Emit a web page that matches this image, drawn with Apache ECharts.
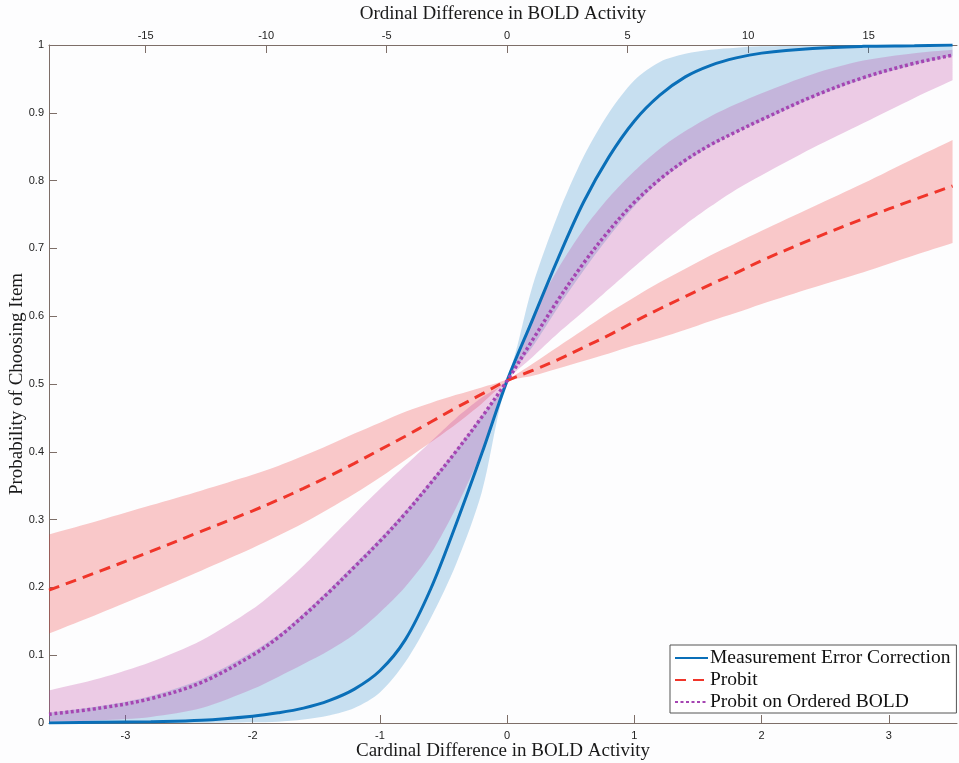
<!DOCTYPE html>
<html>
<head>
<meta charset="utf-8">
<script src="https://cdn.jsdelivr.net/npm/echarts@6/dist/echarts.min.js"></script>
<style>
  html, body { margin: 0; padding: 0; background: #fdfdfe; }
  #chart { width: 959px; height: 763px; }
</style>
</head>
<body>
<div id="chart"></div>
<script>
// x positions (cardinal difference) shared by every curve
const xs = [-3.6, -3.2, -2.8, -2.4, -2.0, -1.8, -1.6, -1.4, -1.2, -1.0, -0.8, -0.6, -0.4, -0.2, 0,
  0.2, 0.4, 0.6, 0.8, 1.0, 1.2, 1.4, 1.6, 1.8, 2.0, 2.4, 2.8, 3.2, 3.5];

// Measurement Error Correction
const mecLine = [0.000, 0.001, 0.002, 0.004, 0.010, 0.015, 0.022, 0.033, 0.050, 0.077, 0.123, 0.198, 0.294, 0.397, 0.505,
  0.595, 0.685, 0.768, 0.835, 0.888, 0.926, 0.953, 0.970, 0.981, 0.988, 0.995, 0.998, 0.999, 1.000];
const mecUp = [0.015, 0.025, 0.040, 0.065, 0.105, 0.130, 0.162, 0.197, 0.234, 0.272, 0.313, 0.357, 0.403, 0.453, 0.507,
  0.645, 0.750, 0.835, 0.900, 0.948, 0.975, 0.987, 0.993, 0.996, 0.998, 0.999, 1.000, 1.000, 1.000];
const mecLow = [0.000, 0.000, 0.000, 0.000, 0.001, 0.002, 0.005, 0.011, 0.022, 0.045, 0.090, 0.155, 0.235, 0.340, 0.503,
  0.555, 0.613, 0.667, 0.717, 0.762, 0.799, 0.827, 0.851, 0.871, 0.888, 0.922, 0.950, 0.971, 0.984];

// Probit
const probitLine = [0.196, 0.224, 0.253, 0.283, 0.313, 0.329, 0.346, 0.364, 0.383, 0.403, 0.423, 0.444, 0.465, 0.485, 0.505,
  0.520, 0.536, 0.554, 0.572, 0.592, 0.611, 0.629, 0.647, 0.664, 0.682, 0.714, 0.744, 0.772, 0.792];
const probitUp = [0.278, 0.299, 0.321, 0.343, 0.366, 0.379, 0.394, 0.410, 0.427, 0.443, 0.459, 0.472, 0.484, 0.495, 0.507,
  0.530, 0.555, 0.580, 0.605, 0.628, 0.650, 0.670, 0.690, 0.708, 0.726, 0.761, 0.796, 0.833, 0.860];
const probitLow = [0.132, 0.162, 0.193, 0.225, 0.258, 0.276, 0.295, 0.316, 0.338, 0.362, 0.388, 0.414, 0.441, 0.471, 0.503,
  0.512, 0.523, 0.534, 0.545, 0.557, 0.568, 0.580, 0.593, 0.605, 0.618, 0.642, 0.665, 0.690, 0.708];

// Probit on Ordered BOLD
const ordLine = [0.013, 0.022, 0.036, 0.060, 0.100, 0.126, 0.158, 0.193, 0.230, 0.268, 0.309, 0.354, 0.401, 0.451, 0.505,
  0.565, 0.624, 0.678, 0.726, 0.768, 0.802, 0.830, 0.853, 0.872, 0.890, 0.924, 0.952, 0.973, 0.985];
const ordUp = [0.048, 0.066, 0.090, 0.122, 0.168, 0.198, 0.232, 0.270, 0.308, 0.345, 0.380, 0.415, 0.450, 0.480, 0.507,
  0.600, 0.670, 0.728, 0.775, 0.814, 0.847, 0.873, 0.895, 0.913, 0.929, 0.957, 0.977, 0.988, 0.993];
const ordLow = [0.002, 0.004, 0.009, 0.022, 0.050, 0.068, 0.087, 0.107, 0.131, 0.163, 0.201, 0.250, 0.318, 0.400, 0.503,
  0.540, 0.575, 0.607, 0.640, 0.673, 0.705, 0.735, 0.762, 0.787, 0.808, 0.848, 0.885, 0.922, 0.948];

// ticks
const cardTicks = [-3, -2, -1, 0, 1, 2, 3];
const ordTicks = [-15, -10, -5, 0, 5, 10, 15];
const yTicks = [0, 0.1, 0.2, 0.3, 0.4, 0.5, 0.6, 0.7, 0.8, 0.9, 1];

const seriesNames = ['Measurement Error Correction', 'Probit', 'Probit on Ordered BOLD'];

const cardMin = -3.6;
const cardMax = 3.535;
const ordPerCard = 5.28; // top axis scale vs bottom axis

const axisColor = '#7d6e68';
const labelStyle = { color: '#222', fontSize: 11, fontFamily: 'Liberation Sans, Arial, sans-serif' };
const titleStyle = { color: '#1a1a1a', fontSize: 19, fontFamily: 'Liberation Serif, Times New Roman, serif' };

const pairs = (ys) => xs.map((x, i) => [x, ys[i]]);

// 端点重复一次，避免平滑时在角上鼓包
const withEnds = (pts) => [pts[0]].concat(pts, [pts[pts.length - 1]]);

// 置信带：用 custom 系列画上下沿围成的多边形
const band = (lo, hi, color) => ({
  type: 'custom',
  silent: true,
  clip: true,
  z: 1,
  data: [[xs[0], lo[0]]],
  renderItem: (params, api) => {
    if (params.dataIndex !== 0) return;
    const top = withEnds(xs.map((x, i) => api.coord([x, hi[i]])));
    const bottom = withEnds(xs.map((x, i) => api.coord([x, lo[i]])).reverse());
    return {
      type: 'polygon',
      shape: { points: top.concat(bottom), smooth: 0.3 },
      style: { fill: color, stroke: null },
    };
  },
});

const line = (name, ys, color, type, width) => ({
  name: name,
  type: 'line',
  data: pairs(ys),
  symbol: 'none',
  smooth: 0.35,
  lineStyle: { color: color, width: width, type: type },
  itemStyle: { color: color },
  z: 3,
});

const chart = echarts.init(document.getElementById('chart'));

const option = {
  backgroundColor: '#fdfdfe',
  animation: false,
  grid: { left: 49, right: 2, top: 45, bottom: 40, containLabel: false, outerBoundsMode: 'none' },
  legend: {
    data: seriesNames,
    orient: 'vertical',
    left: 670,
    top: 645,
    itemWidth: 33,
    itemHeight: 10,
    itemGap: 2,
    padding: [3, 6, 1, 4],
    backgroundColor: '#ffffff',
    borderColor: '#555',
    borderWidth: 1,
    borderRadius: 0,
    itemStyle: { opacity: 0 },
    textStyle: { color: '#111', fontSize: 19.5, fontFamily: 'Liberation Serif, Times New Roman, serif', padding: [0, 0, 0, -3] },
  },
  xAxis: [
    {
      type: 'value',
      position: 'bottom',
      min: cardMin,
      max: cardMax,
      name: 'Cardinal Difference in BOLD Activity',
      nameLocation: 'middle',
      nameGap: 19,
      nameMoveOverlap: false,
      nameTextStyle: titleStyle,
      axisLine: { onZero: false, lineStyle: { color: axisColor, width: 1 } },
      axisTick: { inside: true, length: 8, customValues: cardTicks, lineStyle: { color: axisColor } },
      axisLabel: { customValues: cardTicks, margin: 7, ...labelStyle },
      splitLine: { show: false },
    },
    {
      type: 'value',
      position: 'top',
      min: cardMin * ordPerCard,
      max: cardMax * ordPerCard,
      name: 'Ordinal Difference in BOLD Activity',
      nameLocation: 'middle',
      nameGap: 21,
      nameMoveOverlap: false,
      nameTextStyle: titleStyle,
      axisLine: { onZero: false, lineStyle: { color: axisColor, width: 1 } },
      axisTick: { inside: true, length: 8, customValues: ordTicks, lineStyle: { color: axisColor } },
      axisLabel: { customValues: ordTicks, margin: 4, ...labelStyle },
      splitLine: { show: false },
    },
  ],
  yAxis: {
    type: 'value',
    min: 0,
    max: 1,
    name: 'Probability of Choosing Item',
    nameLocation: 'middle',
    nameGap: 22,
    nameMoveOverlap: false,
    nameTextStyle: titleStyle,
    axisLine: { show: true, onZero: false, lineStyle: { color: axisColor, width: 1 } },
    axisTick: { show: true, inside: true, length: 8, customValues: yTicks, lineStyle: { color: axisColor } },
    axisLabel: { customValues: yTicks, margin: 5, ...labelStyle },
    splitLine: { show: false },
  },
  series: [
    band(mecLow, mecUp, 'rgba(0, 114, 189, 0.21)'),
    band(probitLow, probitUp, 'rgba(238, 45, 45, 0.25)'),
    band(ordLow, ordUp, 'rgba(190, 60, 160, 0.26)'),
    line(seriesNames[0], mecLine, '#0a6fb8', 'solid', 3),
    line(seriesNames[1], probitLine, '#f0352a', [11, 7], 3),
    line(seriesNames[2], ordLine, '#a545b2', [3, 2.5], 3.5),
  ],
};

chart.setOption(option);
</script>
</body>
</html>
